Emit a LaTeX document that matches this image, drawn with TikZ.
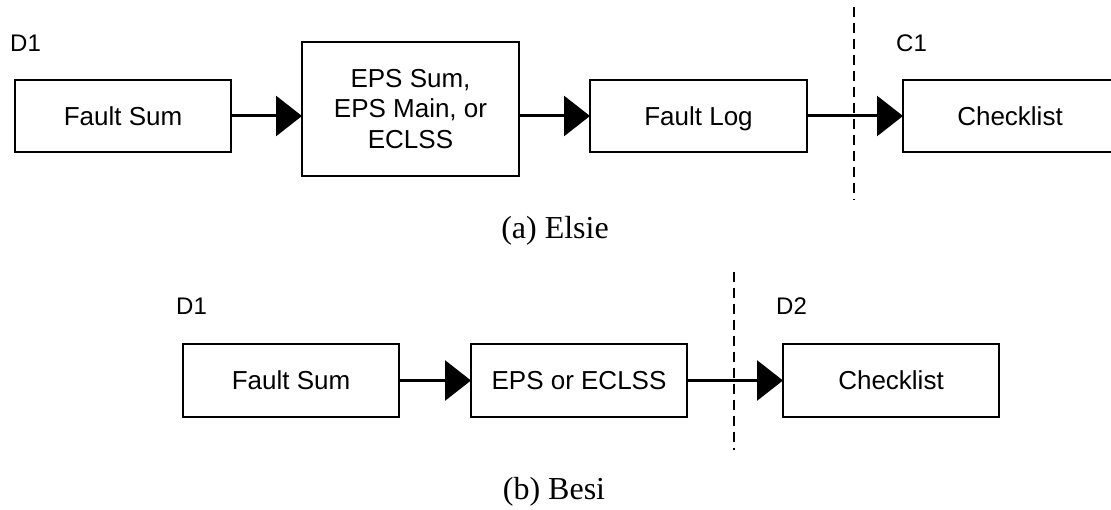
\documentclass[tikz,border=0pt]{standalone}
\usepackage{fontspec}
\setmainfont{Liberation Serif}
\newfontfamily\arialf{Liberation Sans}
\usetikzlibrary{arrows.meta}
\tikzset{
  boxnode/.style={draw=black, line width=1.5pt, inner sep=0pt, align=center,
    font=\arialf\fontsize{26}{30.5}\selectfont},
  oneline/.style={text height=18.6pt, text depth=0pt},
  flowarrow/.style={line width=3pt, -{Triangle[length=26pt,width=40pt]}, shorten >=-0.75pt},
  divider/.style={line width=1.6pt, dash pattern=on 10pt off 6pt},
  tag/.style={anchor=base west, inner sep=0pt, font=\arialf\fontsize{24}{28}\selectfont},
  caption/.style={inner sep=0pt, font=\fontsize{32}{36}\selectfont}
}
\begin{document}
\begin{tikzpicture}[x=1pt,y=-1pt]
\clip (0,0) rectangle (1111,510);
\fill[white] (0,0) rectangle (1111,510);
% (a) Elsie
\node[boxnode, oneline, minimum width=216pt, minimum height=72pt] (fs1) at (123,116) {Fault Sum};
\node[boxnode, minimum width=217pt, minimum height=134pt] (eps1) at (410.5,109) {EPS Sum,\\EPS Main, or\\ECLSS};
\node[boxnode, oneline, minimum width=217pt, minimum height=72pt] (fl1) at (698.5,116) {Fault Log};
\node[boxnode, oneline, minimum width=214pt, minimum height=72pt] (cl1) at (1010,116) {Checklist};
\draw[flowarrow] (fs1.east) -- (fs1.east -| eps1.west);
\draw[flowarrow] (eps1.east |- fl1.west) -- (fl1.west);
\draw[flowarrow] (fl1.east) -- (cl1.west);
\coordinate (dta) at (854,7);
\coordinate (dba) at (854,200);
\draw[divider] (dta) -- (dba);
\node[tag] (d1a) at (10,52) {D1};
\node[tag] (c1a) at (896,52) {C1};
\node[caption] (capa) at (555,231) {(a) Elsie};
% (b) Besi
\node[boxnode, oneline, minimum width=216pt, minimum height=73pt] (fs2) at (291,380.5) {Fault Sum};
\node[boxnode, oneline, minimum width=216pt, minimum height=73pt] (eps2) at (579,380.5) {EPS or ECLSS};
\node[boxnode, oneline, minimum width=216pt, minimum height=73pt] (cl2) at (891,380.5) {Checklist};
\draw[flowarrow] (fs2.east) -- (eps2.west);
\draw[flowarrow] (eps2.east) -- (cl2.west);
\coordinate (dtb) at (734,272);
\coordinate (dbb) at (734,450);
\draw[divider] (dtb) -- (dbb);
\node[tag] (d1b) at (176,315) {D1};
\node[tag] (d2b) at (776,315) {D2};
\node[caption] (capb) at (554,492) {(b) Besi};
\end{tikzpicture}
\end{document}
